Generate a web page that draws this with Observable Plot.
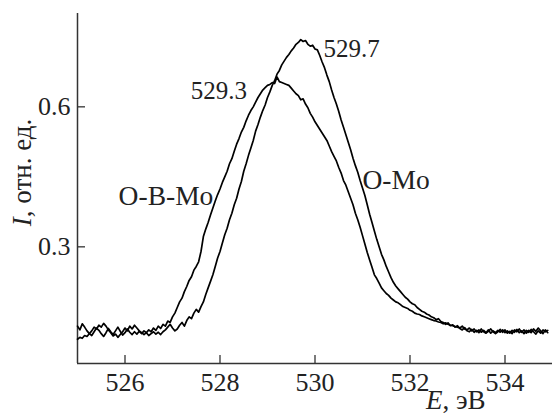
<!DOCTYPE html>
<html>
<head>
<meta charset="utf-8">
<script src="https://cdn.jsdelivr.net/npm/d3@7"></script>
<script src="https://cdn.jsdelivr.net/npm/@observablehq/plot@0.6"></script>
<style>
  html, body { margin: 0; padding: 0; background: #fff; }
  #chart { width: 552px; height: 415px; }
</style>
</head>
<body>
<div id="chart"></div>
<script>
// Photon energy grid, eV
const energy = [
  525,525.05,525.1,525.15,525.2,525.25,525.3,525.35,525.4,525.45,
  525.5,525.55,525.6,525.65,525.7,525.75,525.8,525.85,525.9,525.95,
  526,526.05,526.1,526.15,526.2,526.25,526.3,526.35,526.4,526.45,
  526.5,526.55,526.6,526.65,526.7,526.75,526.8,526.85,526.9,526.95,
  527,527.05,527.1,527.15,527.2,527.25,527.3,527.35,527.4,527.45,
  527.5,527.55,527.6,527.65,527.7,527.75,527.8,527.85,527.9,527.95,
  528,528.05,528.1,528.15,528.2,528.25,528.3,528.35,528.4,528.45,
  528.5,528.55,528.6,528.65,528.7,528.75,528.8,528.85,528.9,528.95,
  529,529.05,529.1,529.15,529.2,529.25,529.3,529.35,529.4,529.45,
  529.5,529.55,529.6,529.65,529.7,529.75,529.8,529.85,529.9,529.95,
  530,530.05,530.1,530.15,530.2,530.25,530.3,530.35,530.4,530.45,
  530.5,530.55,530.6,530.65,530.7,530.75,530.8,530.85,530.9,530.95,
  531,531.05,531.1,531.15,531.2,531.25,531.3,531.35,531.4,531.45,
  531.5,531.55,531.6,531.65,531.7,531.75,531.8,531.85,531.9,531.95,
  532,532.05,532.1,532.15,532.2,532.25,532.3,532.35,532.4,532.45,
  532.5,532.55,532.6,532.65,532.7,532.75,532.8,532.85,532.9,532.95,
  533,533.05,533.1,533.15,533.2,533.25,533.3,533.35,533.4,533.45,
  533.5,533.55,533.6,533.65,533.7,533.75,533.8,533.85,533.9,533.95,
  534,534.05,534.1,534.15,534.2,534.25,534.3,534.35,534.4,534.45,
  534.5,534.55,534.6,534.65,534.7,534.75,534.8,534.85,534.9
];

// Intensity, O–B–Mo
const intensityOBMo = [
  0.130,0.122,0.135,0.128,0.120,0.114,0.110,0.118,0.126,0.121,
  0.114,0.108,0.116,0.125,0.118,0.112,0.120,0.128,0.119,0.111,
  0.116,0.124,0.117,0.112,0.118,0.113,0.119,0.114,0.120,0.116,
  0.122,0.118,0.126,0.121,0.130,0.125,0.134,0.130,0.141,0.138,
  0.150,0.158,0.170,0.182,0.190,0.204,0.215,0.228,0.236,0.250,
  0.258,0.268,0.290,0.322,0.338,0.352,0.368,0.383,0.398,0.412,
  0.424,0.438,0.450,0.462,0.478,0.489,0.505,0.520,0.532,0.546,
  0.556,0.570,0.582,0.592,0.600,0.610,0.620,0.628,0.636,0.641,
  0.646,0.648,0.652,0.650,0.664,0.654,0.652,0.650,0.648,0.646,
  0.640,0.634,0.628,0.624,0.615,0.617,0.606,0.598,0.586,0.578,
  0.568,0.560,0.552,0.544,0.536,0.528,0.516,0.504,0.494,0.484,
  0.470,0.458,0.442,0.432,0.418,0.404,0.390,0.372,0.358,0.342,
  0.324,0.306,0.288,0.272,0.256,0.240,0.232,0.222,0.212,0.206,
  0.200,0.196,0.190,0.186,0.182,0.180,0.176,0.172,0.170,0.168,
  0.164,0.162,0.158,0.156,0.155,0.152,0.150,0.148,0.146,0.144,
  0.142,0.141,0.139,0.138,0.135,0.137,0.134,0.132,0.131,0.129,
  0.128,0.126,0.130,0.124,0.122,0.126,0.120,0.124,0.118,0.122,
  0.117,0.121,0.116,0.122,0.115,0.120,0.116,0.121,0.117,0.122,
  0.116,0.120,0.115,0.121,0.117,0.123,0.116,0.120,0.114,0.121,
  0.117,0.123,0.118,0.113,0.120,0.115,0.122,0.118,0.121
];

// Intensity, O–Mo
const intensityOMo = [
  0.102,0.106,0.104,0.110,0.108,0.114,0.120,0.128,0.124,0.132,
  0.128,0.136,0.130,0.122,0.116,0.109,0.113,0.106,0.112,0.118,
  0.126,0.120,0.130,0.124,0.132,0.126,0.120,0.116,0.112,0.116,
  0.110,0.114,0.118,0.113,0.117,0.112,0.118,0.122,0.128,0.134,
  0.126,0.120,0.124,0.132,0.138,0.130,0.142,0.150,0.146,0.158,
  0.166,0.160,0.172,0.182,0.198,0.212,0.226,0.240,0.258,0.276,
  0.290,0.308,0.326,0.340,0.358,0.372,0.390,0.404,0.424,0.440,
  0.462,0.478,0.496,0.512,0.528,0.548,0.562,0.578,0.592,0.604,
  0.620,0.632,0.646,0.656,0.670,0.678,0.690,0.698,0.706,0.712,
  0.720,0.726,0.734,0.738,0.744,0.740,0.742,0.734,0.730,0.732,
  0.724,0.722,0.710,0.696,0.684,0.668,0.654,0.636,0.620,0.606,
  0.590,0.572,0.556,0.540,0.524,0.508,0.490,0.474,0.460,0.442,
  0.426,0.410,0.390,0.370,0.352,0.334,0.316,0.300,0.284,0.272,
  0.258,0.246,0.234,0.224,0.216,0.210,0.204,0.198,0.192,0.188,
  0.182,0.178,0.176,0.170,0.166,0.162,0.160,0.156,0.154,0.150,
  0.148,0.144,0.146,0.140,0.138,0.134,0.137,0.131,0.133,0.128,
  0.131,0.125,0.122,0.127,0.120,0.118,0.123,0.117,0.121,0.116,
  0.124,0.118,0.115,0.119,0.124,0.118,0.114,0.118,0.123,0.117,
  0.122,0.115,0.119,0.114,0.122,0.118,0.124,0.117,0.122,0.115,
  0.121,0.116,0.124,0.119,0.126,0.120,0.114,0.122,0.116
];

const xTicks = [526, 528, 530, 532, 534];
const yTicks = [0.3, 0.6];
const xDomain = [525, 535];
const yDomain = [0.05, 0.8];

// Peak-position annotations
const peakText = ["529.7", "529.3"];
const peakE    = [530.18, 528.57];
const peakI    = [0.707, 0.617];
// Curve-name annotations
const nameText = ["O-B-Mo", "O-Mo"];
const nameE    = [527.86, 531.0];
const nameI    = [0.390, 0.424];

const xLabelParts = ["E", ", эВ"];
const yLabelParts = ["I", ", отн. ед."];

const rowsOBMo = energy.map((e, k) => ({e, i: intensityOBMo[k]}));
const rowsOMo  = energy.map((e, k) => ({e, i: intensityOMo[k]}));
const peaks = peakText.map((t, k) => ({t, e: peakE[k], i: peakI[k]}));
const names = nameText.map((t, k) => ({t, e: nameE[k], i: nameI[k]}));

const ink = "#000";
const axisInk = "#333";
const serif = "Liberation Serif";
const txt = {fill: "#222", fontSize: 25, fontFamily: serif, fontVariant: "normal"};
const big = {...txt, fontSize: 27.5};

const chart = Plot.plot({
  width: 552,
  height: 415,
  marginLeft: 77,
  marginRight: 0,
  marginTop: 13,
  marginBottom: 52,
  x: {domain: xDomain},
  y: {domain: yDomain},
  marks: [
    Plot.axisX({ticks: xTicks, tickSize: -8, tickPadding: 17, tickFormat: d => String(d), label: null, stroke: axisInk, strokeWidth: 1.3, ...txt, fontSize: 26}),
    Plot.axisY({ticks: yTicks, tickSize: -8, tickPadding: 15, tickFormat: d3.format(".1f"), label: null, stroke: axisInk, strokeWidth: 1.3, ...txt, fontSize: 26}),
    Plot.ruleX([xDomain[0]], {stroke: axisInk, strokeWidth: 1.5}),
    Plot.ruleY([yDomain[0]], {stroke: axisInk, strokeWidth: 1.5}),
    Plot.line(rowsOBMo, {x: "e", y: "i", stroke: ink, strokeWidth: 1.7}),
    Plot.line(rowsOMo, {x: "e", y: "i", stroke: ink, strokeWidth: 1.7}),
    Plot.text(peaks.slice(0, 1), {x: "e", y: "i", text: "t", textAnchor: "start", lineAnchor: "bottom", ...txt}),
    Plot.text(peaks.slice(1), {x: "e", y: "i", text: "t", textAnchor: "end", lineAnchor: "bottom", ...txt}),
    Plot.text(names.slice(0, 1), {x: "e", y: "i", text: "t", textAnchor: "end", lineAnchor: "bottom", ...big}),
    Plot.text(names.slice(1), {x: "e", y: "i", text: "t", textAnchor: "start", lineAnchor: "bottom", ...big}),
    Plot.text([xLabelParts.join("")], {frameAnchor: "bottom-right", textAnchor: "end", lineAnchor: "bottom", dx: -67, dy: 45, ...txt, fontSize: 27}),
    Plot.text([yLabelParts.join("")], {frameAnchor: "left", rotate: -90, textAnchor: "middle", lineAnchor: "middle", dx: -55, dy: -16, ...txt, fontSize: 27})
  ]
});
chart.setAttribute("font-family", serif);

// Italicise the quantity symbols in the axis labels
chart.querySelectorAll("text").forEach(t => {
  [xLabelParts, yLabelParts].forEach(parts => {
    if (t.textContent === parts.join("")) {
      t.textContent = "";
      const a = document.createElementNS("http://www.w3.org/2000/svg", "tspan");
      a.setAttribute("font-style", "italic");
      a.textContent = parts[0];
      const b = document.createElementNS("http://www.w3.org/2000/svg", "tspan");
      b.textContent = parts[1];
      t.appendChild(a);
      t.appendChild(b);
    }
  });
});

document.getElementById("chart").appendChild(chart);
</script>
</body>
</html>
